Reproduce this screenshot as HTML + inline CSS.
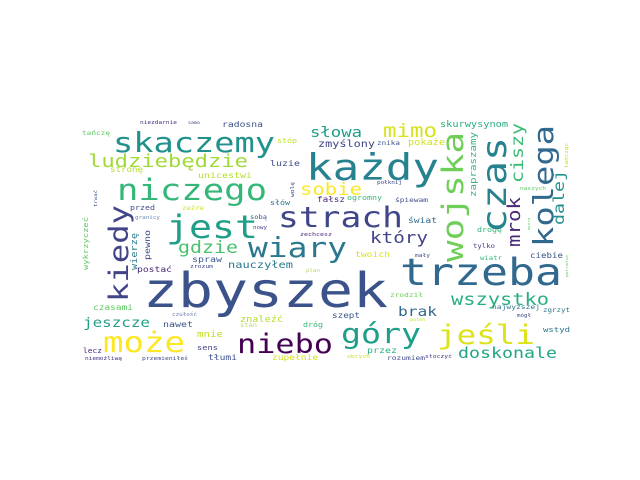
<!DOCTYPE html>
<html><head><meta charset="utf-8"><style>
html,body{margin:0;padding:0;background:#fff;}
svg{display:block;}
text{font-family:"DejaVu Sans Mono","Liberation Mono",monospace;}
</style></head><body>
<svg id="cloud" width="640" height="480" viewBox="0 0 640 480" xmlns="http://www.w3.org/2000/svg">
<rect width="640" height="480" fill="#fff"/>
<g id="words"></g>
</svg>
<script>
const words = ["zbyszek","trzeba","każdy","skaczemy","niczego","jest","strach","wiary","może","niebo","góry","jeśli","ludziebędzie","wszystko","doskonale","słowa","mimo","sobie","gdzie","który","brak","jeszcze","nauczyłem","czasami","postać","spraw","znaleźć","nawet","mnie","sens","tłumi","zupełnie","lecz","niemożliwą","przemieniłeś","czułość","stan","dróg","szept","przez","rozumiem","stoczyć","obcych","poten","zrodził","najwyższej","mógł","zgrzyt","wstyd","tylko","ciebie","twoich","mały","wiatr","drogę","plan","zechcesz","fałsz","ogromny","śpiewam","świat","połknij","zmyślony","znika","pokaże","skurwysynom","radosna","niezdarnie","samo","tańczę","stóp","luzie","stronę","unicestwi","przed","zeżre","sobą","słów","granicy","nowy","zrozum","naszych","wojska","czas","kolega","ciszy","mrok","dalej","zapraszamy","tańcząc","miarą","kiedy","wykrzyczeć","trwać","wierzę","pewno","wolę","potrafię"];
const xs = [143,400,306,113,117,166,278,248,103,237,341,437,88,451,458,310,383,300,178,370,398,83,228,93,137,192,240,163,197,197,208,272,83,85,142,172,240,303,332,367,387,425,347,410,390,492,517,543,543,473,530,355,415,480,477,306,300,317,347,395,408,377,318,377,408,440,222,140,188,82,277,270,110,198,130,182,250,270,135,253,190,520,463,506,553,523,520,564,476,568,530,128,88,97,137,150,294,568];
const ys = [307,285,180,152,200,238,227,257,352,353,343,344,167,305,358,137,137,195,253,243,316,327,268,310,272,262,322,327,337,350,360,360,353,360,360,316,327,327,318,353,360,358,358,321,297,309,317,312,332,248,258,257,257,260,232,272,236,202,200,202,223,184,147,145,145,127,127,124,124,135,143,166,172,178,210,210,219,205,219,229,268,190,262,233,247,183,247,225,197,168,230,302,270,207,270,260,197,277];
const lens = [245,162,133,162,150,92,125,99,82,96,80,98,160,98,99,52,54,62,60,58,39,67,65,40,35,30,43,30,26,21,29,46,19,37,46,25,17,20,28,30,38,27,23,15,33,48,14,27,27,22,33,35,15,22,25,14,32,28,35,33,29,25,57,23,37,68,41,37,12,28,20,30,33,54,25,22,17,20,25,14,23,26,130,96,122,60,50,55,65,25,12,97,53,17,37,30,15,22];
const rots = [0,0,0,0,0,0,0,0,0,0,0,0,0,0,0,0,0,0,0,0,0,0,0,0,0,0,0,0,0,0,0,0,0,0,0,0,0,0,0,0,0,0,0,0,0,0,0,0,0,0,0,0,0,0,0,0,0,0,0,0,0,0,0,0,0,0,0,0,0,0,0,0,0,0,0,0,0,0,0,0,0,0,-90,-90,-90,-90,-90,-90,-90,-90,-90,-90,-90,-90,-90,-90,-90,-90];
const colors = ["#3b528b","#31688e","#26828e","#21918c","#35b779","#1f9e89","#404688","#2a788e","#fde725","#440154","#1f9e89","#dde318","#a0da39","#29af7f","#21a585","#1f9e89","#d8e219","#fde725","#4ac16d","#414487","#31688e","#1f9e89","#2a788e","#5ec962","#482878","#39568c","#b5de2b","#3b528b","#c2df23","#414487","#3b528b","#d2e21b","#482576","#472d7b","#3e4a89","#6b7fa8","#b8d86a","#35b779","#39568c","#2ab07f","#3e4a89","#46327e","#d2e21b","#c2df23","#6ece58","#2c728e","#3e4a89","#2a788e","#2a788e","#414487","#3b528b","#d8e219","#3e4a89","#35b779","#35b779","#b8d86a","#482878","#482878","#35b779","#3e4a89","#31688e","#3e4a89","#414487","#3b528b","#d2e21b","#29af7f","#3b528b","#472d7b","#3e4a89","#5ec962","#c2df23","#3e4a89","#b5de2b","#b5de2b","#3e4a89","#d2e21b","#39568c","#2a788e","#6b8fb0","#414487","#3e4a89","#5ec962","#6ece58","#26828e","#31688e","#3cbb75","#482878","#21918c","#35b779","#c2df23","#5ec962","#414487","#5ec962","#3b528b","#2a788e","#3e4a89","#3e4a89","#5ec962"];

const g = document.getElementById('words');
const NS = 'http://www.w3.org/2000/svg';
for (let i = 0; i < words.length; i++) {
  const w = words[i];
  const n = [...w].length;
  const fs = lens[i] / ((n - 1) * 0.6 + 0.5) * 0.8;
  const t = document.createElementNS(NS, 'text');
  
  
  t.setAttribute('x', xs[i]);
  t.setAttribute('y', ys[i]);
  t.setAttribute('font-size', fs.toFixed(1));
  t.setAttribute('fill', colors[i]);
  t.setAttribute('textLength', lens[i]);
  t.setAttribute('lengthAdjust', 'spacingAndGlyphs');
  if (rots[i]) t.setAttribute('transform', 'rotate(' + rots[i] + ' ' + xs[i] + ' ' + ys[i] + ')');
  t.textContent = w;
  g.appendChild(t);
}
</script>
</body></html>
